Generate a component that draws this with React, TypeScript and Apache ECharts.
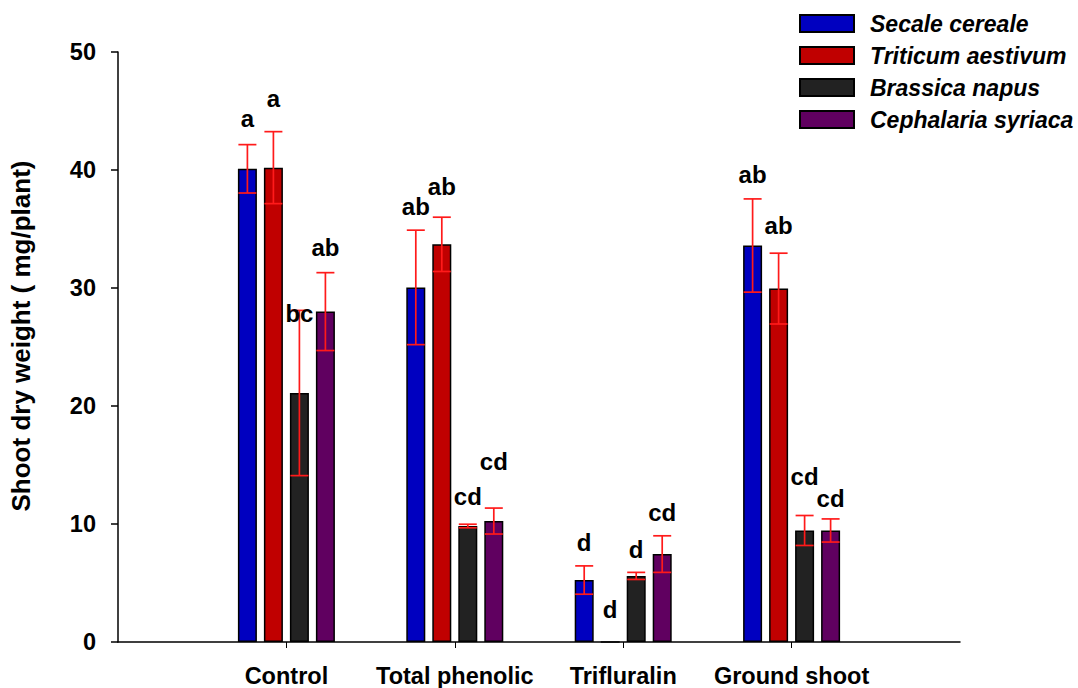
import React, { useEffect, useRef } from "react";
import * as echarts from "echarts";

const categories = ["Control", "Total phenolic", "Trifluralin", "Ground shoot"];
const species = ["Secale cereale", "Triticum aestivum", "Brassica napus", "Cephalaria syriaca"];
const colors = ["#0000C0", "#C00000", "#222222", "#600060"];

const secale = [40.1, 30.05, 5.25, 33.6];
const secaleErr = [2.05, 4.85, 1.2, 3.95];
const triticum = [40.2, 33.7, 0, 29.95];
const triticumErr = [3.05, 2.3, 0, 3.0];
const brassica = [21.1, 9.83, 5.6, 9.45];
const brassicaErr = [7.0, 0.15, 0.3, 1.27];
const cephalaria = [28.0, 10.25, 7.45, 9.45];
const cephalariaErr = [3.3, 1.1, 1.55, 0.98];

const secaleLetters = ["a", "ab", "d", "ab"];
const triticumLetters = ["a", "ab", "d", "ab"];
const brassicaLetters = ["bc", "cd", "d", "cd"];
const cephalariaLetters = ["ab", "cd", "cd", "cd"];

// vertical positions (in axis units) of the significance letters
const secaleLetterY = [44.35, 36.9, 8.4, 39.6];
const triticumLetterY = [46.1, 38.6, 2.74, 35.3];
const brassicaLetterY = [27.8, 12.3, 7.82, 14.0];
const cephalariaLetterY = [33.4, 15.3, 11.0, 12.2];

const yTicks = [0, 10, 20, 30, 40, 50];

const values = [secale, triticum, brassica, cephalaria];
const errs = [secaleErr, triticumErr, brassicaErr, cephalariaErr];
const letters = [secaleLetters, triticumLetters, brassicaLetters, cephalariaLetters];
const letterYs = [secaleLetterY, triticumLetterY, brassicaLetterY, cephalariaLetterY];

const FONT = "'Liberation Sans', Arial, sans-serif";
const BAR_W = 19;
const BAR_STEP = 26;

export default function App() {
  const ref = useRef<HTMLDivElement>(null);
  useEffect(() => {
    if (!ref.current) return;
    const chart = echarts.init(ref.current, null, { renderer: "svg" });
    const axisData = ["", ...categories, ""];

    const barSeries = species.map((name, s) => ({
      name,
      type: "bar",
      data: ["-", ...values[s], "-"],
      barWidth: BAR_W,
      barGap: ((BAR_STEP - BAR_W) / BAR_W) * 100 + "%",
      itemStyle: { color: colors[s], borderColor: "#000", borderWidth: 1.5 },
      z: 2,
    }));

    const errSeries = species.map((_, s) => ({
      type: "custom",
      z: 5,
      silent: true,
      data: values[s].map((v, i) => [i + 1, v - errs[s][i], v + errs[s][i], errs[s][i]]),
      renderItem: (params: any, api: any) => {
        if (api.value(3) <= 0) return null;
        const x = api.value(0);
        const lo = api.coord([x, api.value(1)]);
        const hi = api.coord([x, api.value(2)]);
        const cx = lo[0] + (s - 1.5) * BAR_STEP;
        const hw = 9;
        const st = { stroke: "#FF1A1A", lineWidth: 1.7 };
        return {
          type: "group",
          children: [
            { type: "line", shape: { x1: cx, y1: lo[1], x2: cx, y2: hi[1] }, style: st },
            { type: "line", shape: { x1: cx - hw, y1: lo[1], x2: cx + hw, y2: lo[1] }, style: st },
            { type: "line", shape: { x1: cx - hw, y1: hi[1], x2: cx + hw, y2: hi[1] }, style: st },
          ],
        };
      },
    }));

    const letterSeries = species.map((_, s) => ({
      type: "custom",
      z: 6,
      silent: true,
      data: letterYs[s].map((y, i) => [i + 1, y]),
      renderItem: (params: any, api: any) => {
        const p = api.coord([api.value(0), api.value(1)]);
        return {
          type: "text",
          x: p[0] + (s - 1.5) * BAR_STEP,
          y: p[1],
          style: {
            text: letters[s][params.dataIndex],
            fill: "#000",
            fontSize: 24,
            fontWeight: "bold",
            fontFamily: FONT,
            align: "center",
            verticalAlign: "middle",
          },
        };
      },
    }));

    chart.setOption({
      animation: false,
      textStyle: { fontFamily: FONT },
      grid: { left: 112, right: 118, top: 52, bottom: 46, containLabel: false },
      legend: {
        data: species,
        orient: "vertical",
        left: 799,
        top: 12,
        padding: 0,
        icon: "rect",
        itemWidth: 54,
        itemHeight: 17,
        itemGap: 9,
        textStyle: {
          fontSize: 23,
          fontWeight: "bold",
          fontStyle: "italic",
          color: "#000",
          fontFamily: FONT,
          lineHeight: 17,
          padding: [0, 0, 0, 11],
        },
      },
      xAxis: {
        type: "category",
        data: axisData,
        boundaryGap: false,
        axisLine: { lineStyle: { color: "#000", width: 1.5 } },
        axisTick: {
          show: true,
          length: 6,
          interval: (i: number) => i > 0 && i < axisData.length - 1,
          lineStyle: { color: "#000", width: 1 },
        },
        axisLabel: {
          interval: 0,
          margin: 22,
          fontSize: 23.5,
          fontWeight: "bold",
          color: "#000",
          fontFamily: FONT,
        },
        splitLine: { show: false },
      },
      yAxis: {
        type: "value",
        min: 0,
        max: 50,
        interval: 10,
        name: "Shoot dry weight ( mg/plant)",
        nameLocation: "middle",
        nameGap: 84,
        nameTextStyle: {
          fontSize: 26,
          fontWeight: "bold",
          color: "#000",
          fontFamily: FONT,
          padding: [0, 0, 0, 22],
        },
        axisLine: { show: true, lineStyle: { color: "#000", width: 1.5 } },
        axisTick: { show: true, length: 7, lineStyle: { color: "#000", width: 1.5 } },
        axisLabel: {
          margin: 22,
          fontSize: 23.5,
          fontWeight: "bold",
          color: "#000",
          fontFamily: FONT,
          formatter: (v: number) => (yTicks.includes(v) ? String(v) : ""),
        },
        splitLine: { show: false },
      },
      series: [...barSeries, ...errSeries, ...letterSeries],
    });
    return () => chart.dispose();
  }, []);
  return (
    <div
      ref={ref}
      style={{ position: "absolute", left: 0, top: 0, width: 1078, height: 688, background: "#fff" }}
    />
  );
}
